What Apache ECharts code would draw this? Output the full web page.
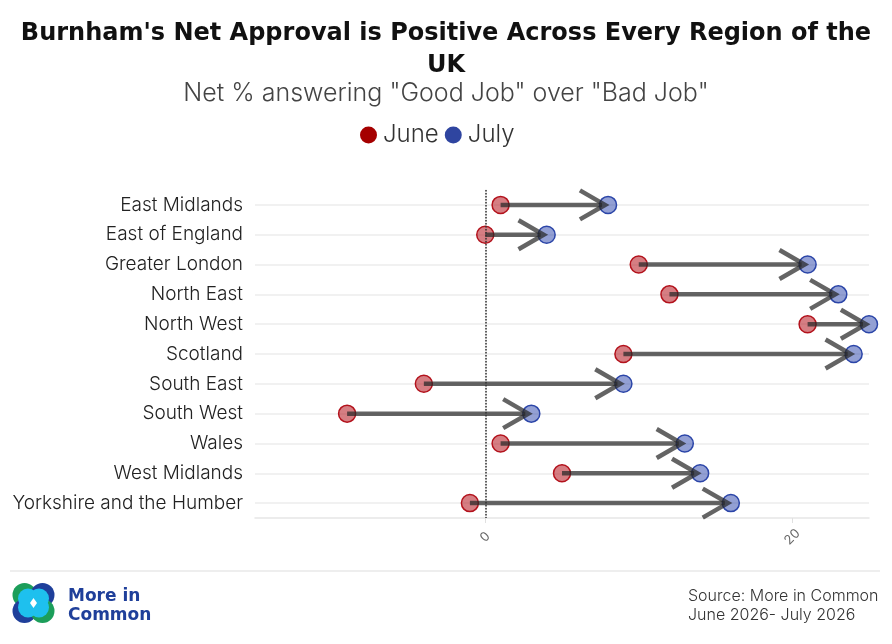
<!DOCTYPE html>
<html>
<head>
<meta charset="utf-8">
<script src="https://cdn.jsdelivr.net/npm/echarts@6/dist/echarts.min.js"></script>
<style>
  html, body { margin: 0; padding: 0; background: #fff; }
  #echarts { width: 892px; height: 644px; }
</style>
</head>
<body>
<div id="echarts"></div>
<script>
/** 数据 */
var regions = ['East Midlands', 'East of England', 'Greater London', 'North East', 'North West',
  'Scotland', 'South East', 'South West', 'Wales', 'West Midlands', 'Yorkshire and the Humber']
var juneValues = [1, 0, 10, 12, 21, 9, -4, -9, 1, 5, -1]
var julyValues = [8, 4, 21, 23, 25, 24, 9, 3, 13, 14, 16]
var xTickValues = [0, 20]
var zeroLine = 0

/** 全局变量 */
var myChart
var option
var arrowData //箭头数据
var fontName = 'Inter'

/** 数据处理 */
var handle_data = function() {
  arrowData = []
  for (var i = 0; i < regions.length; i++) {
    arrowData.push([juneValues[i], julyValues[i], i])
  }
}

/** 箭头绘制 */
var renderArrow = function(params, api) {
  var start = api.coord([api.value(0), api.value(2)])
  var end = api.coord([api.value(1), api.value(2)])
  var dir = end[0] >= start[0] ? 1 : -1
  var tipX = end[0] - dir * 3 //箭头尖端略在点中心左侧
  var len = 29 //箭头长度
  var ang = Math.PI / 6
  var dx = len * Math.cos(ang) * dir
  var dy = len * Math.sin(ang)
  var lineStyle = {
    fill: null,
    stroke: 'rgba(40,40,40,0.72)',
    lineWidth: 4.5,
    lineCap: 'butt',
    lineJoin: 'miter'
  }
  return {
    type: 'group',
    children: [
      {
        type: 'line',
        shape: { x1: start[0], y1: start[1], x2: tipX - dir * 3, y2: end[1] },
        style: lineStyle
      },
      {
        type: 'polyline',
        shape: { points: [[tipX - dx, end[1] - dy], [tipX, end[1]], [tipX - dx, end[1] + dy]] },
        style: lineStyle
      }
    ]
  }
}

/** 初始化option */
var initOption = function() {
  option = {
    animation: false,
    textStyle: { fontFamily: fontName },
    title: [
      {
        text: "Burnham's Net Approval is Positive Across Every Region of the\nUK",
        left: 'center',
        top: 13,
        textStyle: { fontSize: 24, fontWeight: 'bold', color: '#111', lineHeight: 32, fontFamily: 'DejaVu Sans', align: 'center' }
      },
      {
        text: 'Net % answering "Good Job" over "Bad Job"',
        left: 'center',
        top: 76,
        textStyle: { fontSize: 25, fontWeight: 300, color: '#444', fontFamily: fontName }
      }
    ],
    legend: {
      top: 118,
      left: 355,
      icon: 'circle',
      itemWidth: 17,
      itemHeight: 17,
      itemGap: 6,
      textStyle: { fontSize: 24, color: '#333', fontWeight: 300, padding: [0, 0, 0, 1], fontFamily: fontName },
      data: [
        { name: 'June', itemStyle: { color: '#a50000', borderWidth: 0, opacity: 1 } },
        { name: 'July', itemStyle: { color: '#2f45a0', borderWidth: 0, opacity: 1 } }
      ]
    },
    grid: { left: 255, right: 23, top: 190, bottom: 126 },
    xAxis: {
      type: 'value',
      min: -15,
      max: 25,
      axisLine: { show: true, lineStyle: { color: '#e6e6e6', width: 1.5 } },
      splitLine: { show: false },
      axisTick: { show: true, length: 5, customValues: xTickValues, lineStyle: { color: '#e0e0e0' } },
      axisLabel: {
        customValues: xTickValues,
        rotate: 45,
        align: 'center',
        verticalAlign: 'middle',
        margin: 19,
        fontSize: 13,
        color: '#666',
        fontFamily: fontName
      }
    },
    yAxis: {
      type: 'category',
      inverse: true,
      data: regions,
      axisLine: { show: true, lineStyle: { color: '#e6e6e6', width: 1.5 } },
      axisTick: { show: false },
      splitLine: { show: true, alignWithLabel: true, lineStyle: { color: '#ececec', width: 1.5 } },
      axisLabel: { fontSize: 19, color: '#222', margin: 12, fontFamily: fontName, fontWeight: 300 }
    },
    series: [
      {
        name: 'June',
        type: 'scatter',
        symbolSize: 17,
        z: 2,
        data: juneValues.map(function(v, i) { return [v, i] }),
        itemStyle: { color: 'rgba(180,20,30,0.55)', borderColor: '#b3121c', borderWidth: 1.5, opacity: 1 },
        markLine: {
          silent: true,
          symbol: 'none',
          label: { show: false },
          lineStyle: { type: 'dotted', color: '#333', width: 1.5 },
          data: [{ xAxis: zeroLine }]
        }
      },
      {
        name: 'July',
        type: 'scatter',
        symbolSize: 17,
        z: 2,
        data: julyValues.map(function(v, i) { return [v, i] }),
        itemStyle: { color: 'rgba(40,65,170,0.5)', borderColor: '#2b45a8', borderWidth: 1.5, opacity: 1 }
      },
      {
        name: 'arrows',
        type: 'custom',
        z: 3,
        renderItem: renderArrow,
        encode: { x: [0, 1], y: 2 },
        data: arrowData
      }
    ],
    graphic: [
      //页脚分隔线
      { type: 'line', shape: { x1: 10, y1: 571, x2: 880, y2: 571 }, style: { stroke: '#dddddd', lineWidth: 1.2 } },
      //标志
      { type: 'circle', shape: { cx: 24.5, cy: 595, r: 12 }, style: { fill: '#1c9e5a' } },
      { type: 'circle', shape: { cx: 42.5, cy: 595, r: 12 }, style: { fill: '#1f3f9a' } },
      { type: 'circle', shape: { cx: 24.5, cy: 611, r: 12 }, style: { fill: '#1f3f9a' } },
      { type: 'circle', shape: { cx: 42.5, cy: 611, r: 12 }, style: { fill: '#1c9e5a' } },
      { type: 'circle', shape: { cx: 28, cy: 598.5, r: 10 }, style: { fill: '#1ec0ee' } },
      { type: 'circle', shape: { cx: 39, cy: 598.5, r: 10 }, style: { fill: '#1ec0ee' } },
      { type: 'circle', shape: { cx: 28, cy: 607.5, r: 10 }, style: { fill: '#1ec0ee' } },
      { type: 'circle', shape: { cx: 39, cy: 607.5, r: 10 }, style: { fill: '#1ec0ee' } },
      { type: 'polygon', shape: { points: [[33.5, 598], [37, 603], [33.5, 608], [30, 603]] }, style: { fill: '#ffffff' } },
      {
        type: 'text', left: 68, top: 587,
        style: { text: 'More in\nCommon', fill: '#1f3f9a', font: 'bold 17px "DejaVu Sans"', lineHeight: 19 }
      },
      //来源
      {
        type: 'text', left: 688, top: 587,
        style: { text: 'Source: More in Common\nJune 2026- July 2026', fill: '#333', font: '300 16px Inter', lineHeight: 19 }
      }
    ]
  }
}

/** 初始化图表 */
var initChart = function() {
  myChart = echarts.init(document.getElementById('echarts'))
}

handle_data()
initOption()
initChart()
myChart.setOption(option)
</script>
</body>
</html>
